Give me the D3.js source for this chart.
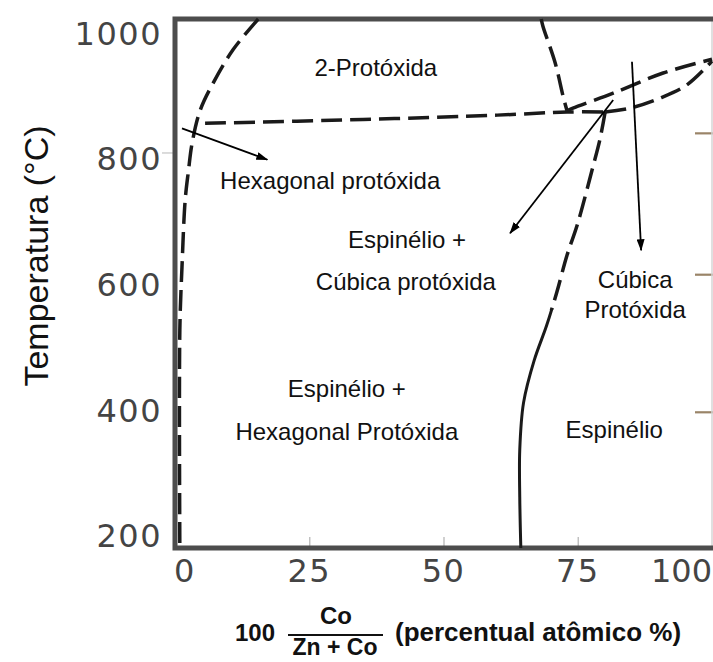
<!DOCTYPE html>
<html>
<head>
<meta charset="utf-8">
<script src="https://cdn.jsdelivr.net/npm/d3@7"></script>
<style>
  html, body { margin: 0; padding: 0; background: #fff; }
  svg { display: block; }
</style>
</head>
<body>
<svg id="chart" width="713" height="662"></svg>
<script>
// ---- Axis ranges and ticks ----
const compDomain = [0, 100];            // 100·Co/(Zn+Co), at.%
const tempDomain = [180, 1022];         // °C
const compTicks  = [0, 25, 50, 75, 100];
const tempTicks  = [200, 400, 600, 800, 1000];
const innerCompTicks = [25, 50, 75];
const rightTicks = [840, 615, 396];

// ---- Phase boundaries: [composition, temperature] ----
const hexSolvus   = [[15.5,1022],[10.8,973],[7.1,920],[4.7,877],[3.2,825],[2.5,780],[1.9,734],[1.3,627],[0.9,527],[0.9,180]];
const eutectoid   = [[5.6,856],[35,862],[60,869],[73,874],[80.1,874]];
const gapBoundary = [[68.2,1022],[68.5,1011],[70.8,952],[72.3,898],[73.0,876]];
const lensUpper   = [[73.0,876],[74.1,880],[81.6,904],[90.9,936],[100,958]];
const lensLower   = [[80.1,874],[84.7,880],[90.3,896],[95.3,917],[100,955]];
// spinel boundary: dashed above spinelBreak, solid below
const spinelLine  = [[80.1,874],[79.1,829],[77.8,786],[74.9,694],[73.0,646],[71.1,587],[69.2,534],[66.9,479],[64.9,411],[64.2,336],[64.2,261],[64.4,180]];
const spinelBreak = 559;

// ---- Pointer arrows: [composition, temperature] ----
const arrowStarts = [[1.3,848],[81.6,893],[85.1,954]];
const arrowEnds   = [[17.2,798],[62.4,681],[86.8,654]];

// ---- Phase field names and their anchors ----
const fieldNames = ["2-Protóxida","Hexagonal protóxida","Espinélio +","Cúbica protóxida",
                    "Cúbica","Protóxida","Espinélio +","Hexagonal Protóxida","Espinélio"];
const fieldComp  = [37.4, 28.9, 43.2, 43.0, 85.7, 85.7, 32.0, 32.0, 81.8];
const fieldTemp  = [931, 751, 657, 591, 594, 546, 420, 352, 355];

const svg = d3.select("#chart");
const W = 713;

const x = d3.scaleLinear().domain(compDomain).range([175, 712]);
const y = d3.scaleLinear().domain(tempDomain).range([548, 19]);

const defs = svg.append("defs");
// arrowhead marker
defs.append("marker")
  .attr("id", "head")
  .attr("markerUnits", "userSpaceOnUse")
  .attr("viewBox", "0 0 12 8")
  .attr("refX", 11).attr("refY", 4)
  .attr("markerWidth", 12).attr("markerHeight", 8)
  .attr("orient", "auto")
  .append("path").attr("d", "M0,0 L12,4 L0,8 Z").attr("fill", "#000");

// clip regions above / below the spinel style break
defs.append("clipPath").attr("id", "aboveBreak").append("rect")
  .attr("x", 0).attr("width", W).attr("y", 0).attr("height", y(spinelBreak));
defs.append("clipPath").attr("id", "belowBreak").append("rect")
  .attr("x", 0).attr("width", W).attr("y", y(spinelBreak)).attr("height", 662 - y(spinelBreak));

// ---- axes: faint tick marks + labels ----
const xAxis = d3.axisBottom(x).tickValues(innerCompTicks).tickSizeInner(-11).tickSizeOuter(0).tickFormat("");
const gx = svg.append("g").attr("transform", `translate(0,${y(180)})`).call(xAxis);
gx.select(".domain").remove();
gx.selectAll(".tick line").attr("stroke", "#bdbdbd").attr("stroke-width", 1.4);

const yAxis = d3.axisLeft(y).tickValues([800]).tickSizeInner(13).tickSizeOuter(0).tickFormat("");
const gy = svg.append("g").attr("transform", `translate(${x(0)},0)`).call(yAxis);
gy.select(".domain").remove();
gy.selectAll(".tick line").attr("stroke", "#c4c4c4").attr("stroke-width", 1.2).attr("transform", "translate(0,-6)");

// right-hand tick stubs
svg.append("g").selectAll("line").data(rightTicks).join("line")
  .attr("x1", x(100) - 17).attr("x2", W)
  .attr("y1", d => y(d)).attr("y2", d => y(d))
  .attr("stroke", "#9a8468").attr("stroke-width", 2.2);

// tick labels
const tickFont = "'DejaVu Sans', sans-serif";
svg.append("g").selectAll("text").data(compTicks).join("text")
  .attr("x", d => d === 100 ? W - 1 : x(d) + (d === 0 ? 10 : 0))
  .attr("y", y(180) + 34)
  .attr("text-anchor", d => d === 100 ? "end" : "middle")
  .attr("font-family", tickFont).attr("font-size", 32)
  .attr("letter-spacing", d => d === 100 ? 0 : 1.5)
  .attr("fill", "#444")
  .text(d => d);

svg.append("g").selectAll("text").data(tempTicks).join("text")
  .attr("x", x(0) - 13)
  .attr("y", d => y(d) + 12)
  .attr("text-anchor", "end")
  .attr("font-family", tickFont).attr("font-size", 32)
  .attr("letter-spacing", 1.5)
  .attr("fill", "#444")
  .text(d => d);

// ---- frame ----
svg.append("line").attr("x1", x(100)).attr("x2", x(100)).attr("y1", y(1022)).attr("y2", y(180))
  .attr("stroke", "#d6d6d6").attr("stroke-width", 1.5);
svg.append("path")
  .attr("d", `M${W},${y(1022)} L${x(0)},${y(1022)} L${x(0)},${y(180)} L${W},${y(180)}`)
  .attr("fill", "none").attr("stroke", "#4d4d4d").attr("stroke-width", 5)
  .attr("stroke-linejoin", "miter");

// ---- phase boundaries ----
const curve = d3.line().x(d => x(d[0])).y(d => y(d[1])).curve(d3.curveCatmullRom.alpha(0.5));
const dashed = [hexSolvus, eutectoid, gapBoundary, lensUpper, lensLower];
svg.append("g").selectAll("path").data(dashed).join("path")
  .attr("d", curve)
  .attr("fill", "none").attr("stroke", "#1a1a1a")
  .attr("stroke-width", 3.5).attr("stroke-dasharray", "21,8");
svg.append("path").datum(spinelLine).attr("d", curve)
  .attr("clip-path", "url(#aboveBreak)")
  .attr("fill", "none").attr("stroke", "#1a1a1a")
  .attr("stroke-width", 3.5).attr("stroke-dasharray", "21,8");
svg.append("path").datum(spinelLine).attr("d", curve)
  .attr("clip-path", "url(#belowBreak)")
  .attr("fill", "none").attr("stroke", "#1a1a1a").attr("stroke-width", 3);

// ---- arrows ----
svg.append("g").selectAll("line").data(arrowStarts).join("line")
  .attr("x1", d => x(d[0])).attr("y1", d => y(d[1]))
  .attr("x2", (d, i) => x(arrowEnds[i][0])).attr("y2", (d, i) => y(arrowEnds[i][1]))
  .attr("stroke", "#000").attr("stroke-width", 1.8)
  .attr("marker-end", "url(#head)");

// ---- phase field names ----
svg.append("g").selectAll("text").data(fieldNames).join("text")
  .attr("x", (d, i) => x(fieldComp[i]))
  .attr("y", (d, i) => y(fieldTemp[i]))
  .attr("text-anchor", "middle")
  .attr("font-family", "'Liberation Sans', Arial, sans-serif")
  .attr("font-size", 24)
  .attr("fill", "#111")
  .text(d => d);

// ---- axis titles ----
svg.append("text")
  .attr("transform", "translate(48,256) rotate(-90)")
  .attr("text-anchor", "middle")
  .attr("font-family", "'Liberation Sans', Arial, sans-serif")
  .attr("font-size", 34)
  .attr("fill", "#111")
  .text("Temperatura (°C)");

const titleFont = "'Liberation Sans', Arial, sans-serif";
const xt = svg.append("g").attr("font-family", titleFont).attr("font-weight", "bold").attr("fill", "#111");
xt.append("text").attr("x", 235).attr("y", 641).attr("font-size", 24).text("100");
xt.append("text").attr("x", 336).attr("y", 624).attr("font-size", 24).attr("text-anchor", "middle").text("Co");
xt.append("line").attr("x1", 288).attr("x2", 383).attr("y1", 635).attr("y2", 635).attr("stroke", "#111").attr("stroke-width", 2);
xt.append("text").attr("x", 335).attr("y", 655).attr("font-size", 23).attr("text-anchor", "middle").text("Zn + Co");
xt.append("text").attr("x", 395).attr("y", 641).attr("font-size", 26).text("(percentual atômico %)");
</script>
</body>
</html>
